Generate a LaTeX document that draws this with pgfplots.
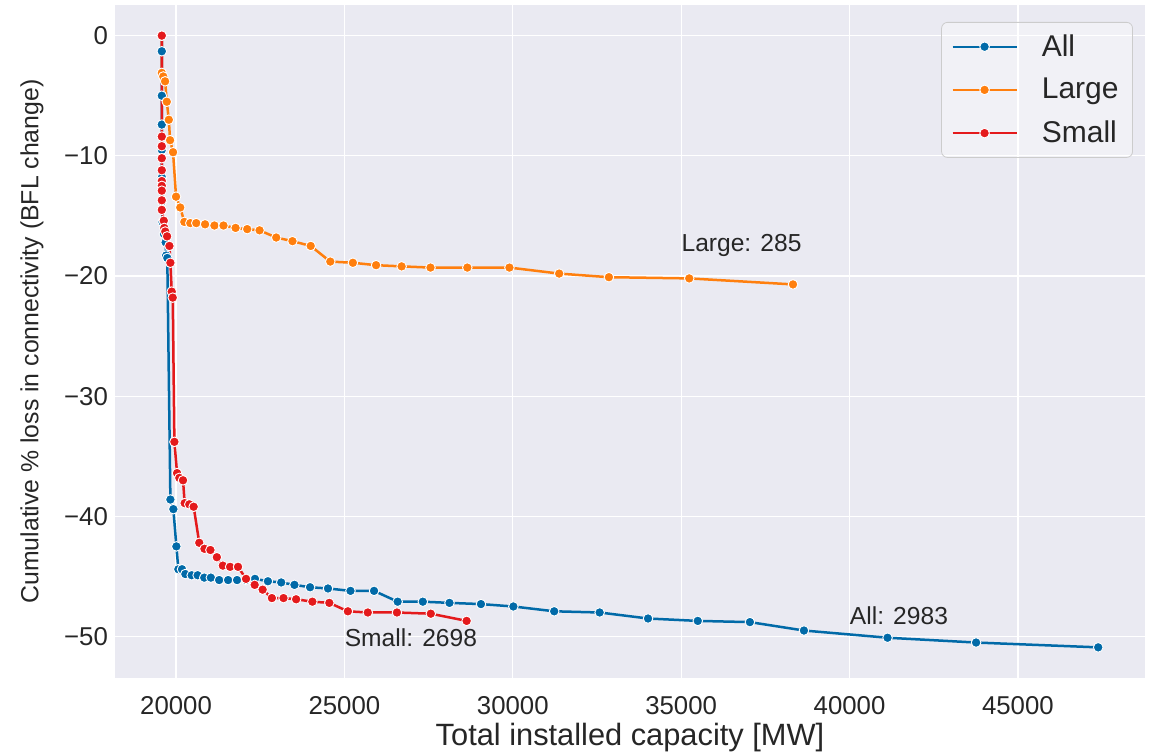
\documentclass[border=0pt]{standalone}
\usepackage{fontspec}
\setmainfont{Liberation Sans}
\usepackage{pgfplots}
\pgfplotsset{compat=1.18}

\definecolor{bgc}{RGB}{234,234,242}
\definecolor{allc}{RGB}{1,106,168}
\definecolor{largec}{RGB}{255,127,14}
\definecolor{smallc}{RGB}{228,26,28}
\definecolor{txt}{RGB}{38,38,38}

\pgfplotsset{
  sbline/.style={line width=1.25pt, color=#1, mark=*, mark size=2.4pt,
    mark options={fill=#1, draw=white, line width=0.45pt, solid}},
}

\begin{document}
\begin{tikzpicture}
\useasboundingbox (-57.5pt,-37.5pt) rectangle (521pt,339pt);
\begin{axis}[
  scale only axis,
  width=515pt, height=336.5pt,
  xmin=18187, xmax=48774,
  ymin=-53.45, ymax=2.55,
  axis background/.style={fill=bgc},
  axis line style={draw=none},
  major tick style={draw=none},
  grid=major,
  grid style={white, line width=0.65pt},
  scaled x ticks=false,
  xtick={20000,25000,30000,35000,40000,45000},
  xticklabels={20000,25000,30000,35000,40000,45000},
  ytick={-50,-40,-30,-20,-10,0},
  yticklabels={−50,−40,−30,−20,−10,0},
  ticklabel style={font=\fontsize{12.9}{15}\selectfont, text=txt},
  xticklabel style={yshift=-5.5pt},
  xlabel={Total installed capacity [MW]},
  ylabel={Cumulative \% loss in connectivity (BFL change)},
  xlabel style={font=\fontsize{15.4}{18}\selectfont, text=txt,
    at={(axis description cs:0.5,-0.089)}, anchor=center},
  ylabel style={font=\fontsize{12.4}{15}\selectfont, text=txt,
    at={(axis description cs:-0.0806,0.5)}, anchor=center},
  legend style={at={(axis description cs:0.9883,0.9748)}, anchor=north east,
    fill=white, fill opacity=0.35, text opacity=1, draw=black!20,
    rounded corners=3pt, font=\fontsize{15}{18}\selectfont, text=txt,
    row sep=5.5pt, inner xsep=5pt, inner ysep=4pt},
  legend cell align=left,
  legend image code/.code={
    \draw[mark repeat=2, mark phase=2, line width=1pt, fill opacity=1, #1]
      plot coordinates {(0pt,0pt) (16pt,0pt) (32pt,0pt)};
    \path (42pt,0pt);
  },
]
\addplot[sbline=allc] coordinates {
(19577,0) (19577,-1.3) (19577,-5.0) (19577,-7.4) (19578,-9.5) (19580,-11.8)
(19585,-13.8) (19600,-15.5) (19640,-16.5) (19690,-17.2) (19705,-18.3)
(19740,-18.5) (19832,-38.6) (19920,-39.4) (20010,-42.5) (20068,-44.4)
(20177,-44.4) (20276,-44.8) (20464,-44.9) (20641,-44.9) (20837,-45.1)
(21034,-45.1) (21280,-45.3) (21546,-45.3) (21812,-45.3) (22078,-45.3)
(22343,-45.2) (22728,-45.4) (23123,-45.5) (23516,-45.7) (23980,-45.9)
(24512,-46.0) (25180,-46.2) (25880,-46.2) (26581,-47.1) (27328,-47.1)
(28120,-47.2) (29055,-47.3) (30017,-47.5) (31229,-47.9) (32579,-48.0)
(34016,-48.5) (35493,-48.7) (37041,-48.8) (38646,-49.5) (41128,-50.1)
(43758,-50.5) (47384,-50.9)
};
\addlegendentry{All}
\addplot[sbline=largec] coordinates {
(19577,0) (19577,-3.1) (19620,-3.4) (19675,-3.8) (19725,-5.5) (19785,-7.0)
(19823,-8.7) (19911,-9.7) (20000,-13.4) (20125,-14.3) (20245,-15.5)
(20423,-15.6) (20600,-15.6) (20862,-15.7) (21140,-15.8) (21409,-15.8)
(21768,-16.0) (22113,-16.1) (22480,-16.2) (22975,-16.8) (23457,-17.1)
(23999,-17.5) (24580,-18.8) (25251,-18.9) (25940,-19.1) (26699,-19.2)
(27556,-19.3) (28649,-19.3) (29900,-19.3) (31377,-19.8) (32854,-20.1)
(35239,-20.2) (38321,-20.7)
};
\addlegendentry{Large}
\addplot[sbline=smallc] coordinates {
(19577,0) (19577,-8.4) (19577,-9.2) (19577,-10.2) (19577,-11.2) (19577,-12.1)
(19577,-12.5) (19577,-12.9) (19577,-13.7) (19577,-14.5) (19636,-15.4)
(19650,-16.0) (19680,-16.3) (19734,-16.7) (19803,-17.5) (19832,-18.9)
(19872,-21.3) (19902,-21.8) (19951,-33.8) (20030,-36.4) (20098,-36.8)
(20207,-37.0) (20256,-38.9) (20393,-39.0) (20523,-39.2) (20689,-42.2)
(20843,-42.7) (21020,-42.8) (21212,-43.4) (21389,-44.1) (21605,-44.2)
(21841,-44.2) (22078,-45.2) (22335,-45.7) (22571,-46.1) (22846,-46.8)
(23191,-46.8) (23566,-46.9) (24048,-47.1) (24551,-47.2) (25103,-47.9)
(25694,-48.0) (26560,-48.0) (27565,-48.1) (28629,-48.7)
};
\addlegendentry{Small}
\node[anchor=base west, text=txt, font=\fontsize{12.3}{15}\selectfont, inner sep=0pt]
  at (axis cs:35000,-18) {Large: 285};
\node[anchor=base west, text=txt, font=\fontsize{12.3}{15}\selectfont, inner sep=0pt]
  at (axis cs:40000,-49) {All: 2983};
\node[anchor=base west, text=txt, font=\fontsize{12.3}{15}\selectfont, inner sep=0pt]
  at (axis cs:25000,-50.8) {Small: 2698};
\end{axis}
\end{tikzpicture}
\end{document}
